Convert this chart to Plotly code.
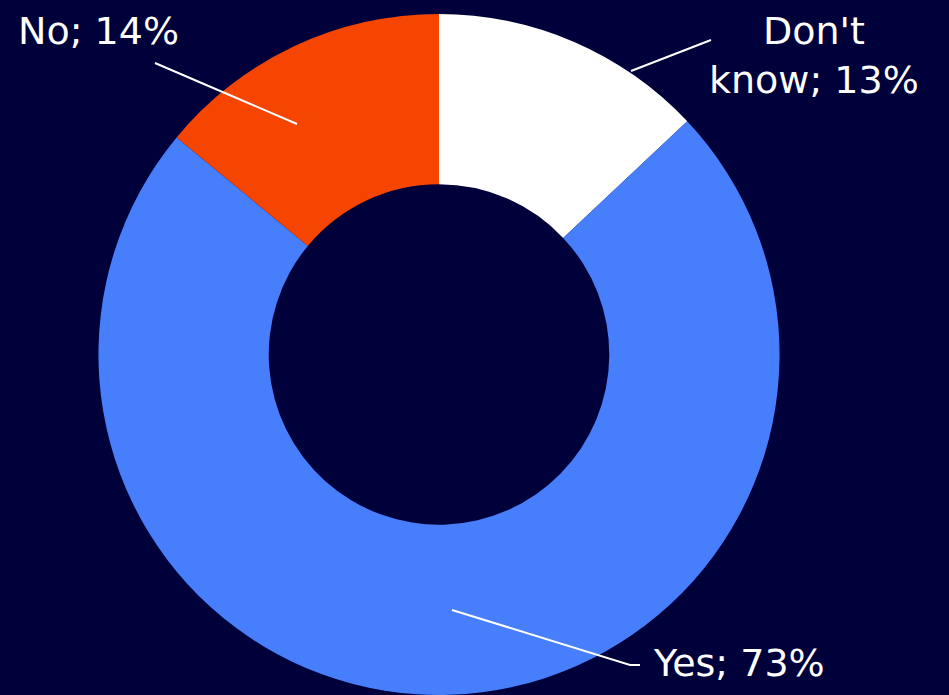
import plotly.graph_objects as go

labels = ["Don't know", "Yes", "No"]
values = [13, 73, 14]
text_labels = ["Don't<br>know; 13%", "Yes; 73%", "No; 14%"]
colors = ["#FFFFFF", "#477EFC", "#F54500"]

W, H = 949, 695
BG = "#00003A"

def px(x, y):
    return x / W, 1 - y / H

fig = go.Figure(go.Pie(
    labels=labels, values=values, sort=False, direction="clockwise", rotation=0,
    hole=0.5, textinfo="none", hoverinfo="label+percent",
    marker=dict(colors=colors, line=dict(width=0)),
    domain=dict(x=[98 / W, 780 / W], y=[0, 0.98]),
    showlegend=False,
))

# label layout: (text center px, leader-line path px)
label_layout = {
    "Don't know": ((814, 56), [(631, 71), (711, 40)]),
    "Yes": ((739, 663), [(452, 610), (630, 665), (640, 665)]),
    "No": ((98, 31), [(297, 124), (155, 63)]),
}

annotations = []
shapes = []
for lab, txt in zip(labels, text_labels):
    (tx, ty), path = label_layout[lab]
    x, y = px(tx, ty)
    annotations.append(dict(
        x=x, y=y, xref="paper", yref="paper", text=txt, showarrow=False,
        xanchor="center", yanchor="middle", align="center",
        font=dict(family="DejaVu Sans", size=38, color="white"),
    ))
    pts = [px(a, b) for a, b in path]
    d = "M " + " L ".join(f"{a},{b}" for a, b in pts)
    shapes.append(dict(type="path", path=d, xref="paper", yref="paper",
                       line=dict(color="white", width=2)))

fig.update_layout(
    width=W, height=H, margin=dict(l=0, r=0, t=0, b=0),
    paper_bgcolor=BG, plot_bgcolor=BG,
    annotations=annotations, shapes=shapes,
)

fig.write_html("out.html")
